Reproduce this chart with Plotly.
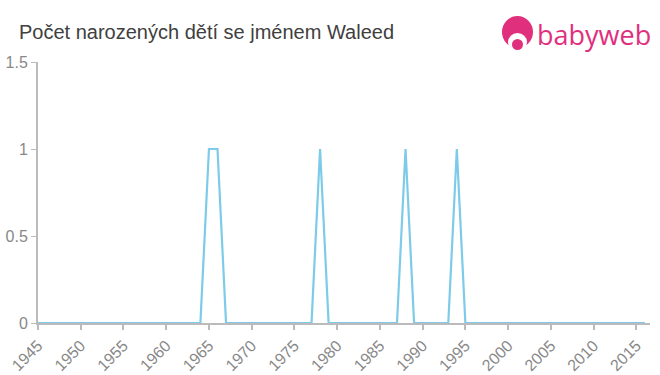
import plotly.graph_objects as go

years = list(range(1945, 2017))
counts = [0, 0, 0, 0, 0, 0, 0, 0, 0, 0,   # 1945-1954
          0, 0, 0, 0, 0, 0, 0, 0, 0, 0,   # 1955-1964
          1, 1, 0, 0, 0, 0, 0, 0, 0, 0,   # 1965-1974
          0, 0, 0, 1, 0, 0, 0, 0, 0, 0,   # 1975-1984
          0, 0, 0, 1, 0, 0, 0, 0, 0, 1,   # 1985-1994
          0, 0, 0, 0, 0, 0, 0, 0, 0, 0,   # 1995-2004
          0, 0, 0, 0, 0, 0, 0, 0, 0, 0,   # 2005-2014
          0, 0]                           # 2015-2016
x_ticks = list(range(1945, 2016, 5))
y_ticks = [0, 0.5, 1, 1.5]
y_tick_labels = ["0", "0.5", "1", "1.5"]
title = "Počet narozených dětí se jménem Waleed"

W, H = 660, 375
L, R, T, B = 38, 10, 62, 52
pw, ph = W - L - R, H - T - B

def px(x):
    return (x - L) / pw

def py(y):
    return (H - B - y) / ph

fig = go.Figure()
fig.add_trace(go.Scatter(
    x=years, y=counts, mode="lines",
    line=dict(color="#7dcbe9", width=2.2),
    cliponaxis=False, hoverinfo="skip"))

pink = "#e0307d"
shapes = [
    dict(type="circle", xref="paper", yref="paper",
         x0=px(502), x1=px(533), y0=py(48), y1=py(16),
         fillcolor=pink, line=dict(width=0)),
    dict(type="circle", xref="paper", yref="paper",
         x0=px(508), x1=px(527), y0=py(51), y1=py(33),
         fillcolor="white", line=dict(width=0)),
    dict(type="circle", xref="paper", yref="paper",
         x0=px(512), x1=px(523), y0=py(50), y1=py(39),
         fillcolor=pink, line=dict(width=0)),
]

fig.update_layout(
    width=W, height=H,
    margin=dict(l=L, r=R, t=T, b=B),
    paper_bgcolor="white", plot_bgcolor="white",
    showlegend=False,
    font=dict(family="Liberation Sans, Arial, sans-serif", color="#888888", size=16),
    shapes=shapes,
    annotations=[
        dict(text=title, xref="paper", yref="paper", x=px(17), y=py(32),
             xanchor="left", yanchor="middle", showarrow=False,
             font=dict(size=20, color="#404040")),
        dict(text="babyweb", xref="paper", yref="paper", x=px(535), y=py(34),
             xanchor="left", yanchor="middle", showarrow=False,
             font=dict(size=27, color=pink, family="Open Sans, sans-serif")),
    ],
    xaxis=dict(range=[1945, 2016.6], tickvals=x_ticks, tickangle=-45,
               showgrid=False, zeroline=False, showline=True,
               linecolor="#bbbbbb", linewidth=2, ticks="outside",
               ticklen=5, tickwidth=2, tickcolor="#bbbbbb", automargin=False,
               layer="below traces", tickfont=dict(size=16, color="#888888")),
    yaxis=dict(range=[0, 1.5], tickvals=y_ticks, ticktext=y_tick_labels,
               showgrid=False, zeroline=False, showline=True,
               linecolor="#bbbbbb", linewidth=2, ticks="outside",
               ticklen=5, tickwidth=1, tickcolor="#bbbbbb", automargin=False,
               layer="below traces", tickfont=dict(size=16, color="#888888")),
)

fig.write_html("out.html")
